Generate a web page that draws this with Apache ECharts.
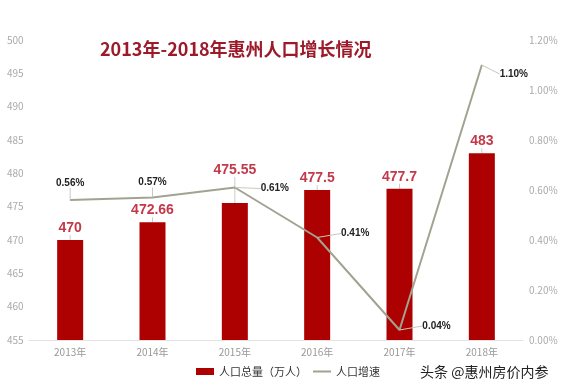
<!DOCTYPE html>
<html><head><meta charset="utf-8">
<script src="https://cdn.jsdelivr.net/npm/echarts@6/dist/echarts.min.js"></script>
<style>html,body{margin:0;padding:0;background:#fff;}#c{width:562px;height:391px;}</style>
</head><body><div id="c"></div>
<script>
const categories = ['2013年','2014年','2015年','2016年','2017年','2018年'];
const population = [470, 472.66, 475.55, 477.5, 477.7, 483];
const growth = [0.56, 0.57, 0.61, 0.41, 0.04, 1.10];
const titleText = '2013年-2018年惠州人口增长情况';
const legendNames = ['人口总量（万人）', '人口增速'];
const watermark = '头条 @惠州房价内参';

// label placement (style only)
const lineLabelOffsets = [[0,-17],[0,-15],[40,1],[38,-4],[37,-4],[32,9]];
const barLabelShift = [0,0,-21,0,0,0];

const chart = echarts.init(document.getElementById('c'));
const font = '"Noto Sans CJK SC", "Liberation Sans", sans-serif';
chart.setOption({
  animation: false,
  textStyle: {fontFamily: font},
  title: {text: titleText, left: 95, top: 35,
    textStyle: {fontSize: 18, fontWeight: 'bold', color: '#9c1a2a', fontFamily: font}},
  grid: {left: 29, right: 39, top: 40, bottom: 51},
  legend: {bottom: 9, left: 191, itemGap: 5, itemWidth: 18, itemHeight: 7,
    textStyle: {fontSize: 11, color: '#333'},
    data: [{name: legendNames[0], icon: 'rect'},
           {name: legendNames[1], itemStyle: {opacity: 0}}]},
  graphic: [{type: 'text', left: 420, top: 365,
    style: {text: watermark, fontSize: 14, fill: '#222', fontFamily: font}}],
  xAxis: {type: 'category', data: categories,
    axisLine: {lineStyle: {color: '#e4e4e4'}}, axisTick: {show: false},
    axisLabel: {color: '#999', fontSize: 10, margin: 7}},
  yAxis: [
    {type: 'value', min: 455, max: 500, interval: 5,
     axisLine: {show: false}, axisTick: {show: false}, splitLine: {show: false},
     axisLabel: {color: '#aaa', fontSize: 10, margin: 22, align: 'left'}},
    {type: 'value', min: 0, max: 1.2, interval: 0.2,
     axisLine: {show: false}, axisTick: {show: false}, splitLine: {show: false},
     axisLabel: {color: '#aaa', fontSize: 10, margin: 6,
       formatter: v => v.toFixed(2) + '%'}}
  ],
  series: [
    {name: legendNames[0], type: 'bar', data: population, barWidth: 26,
     itemStyle: {color: '#ad0000'},
     label: {show: true, position: 'top', distance: 5, color: '#c3394a',
       fontSize: 14, fontWeight: 'bold', fontFamily: '"Liberation Sans", sans-serif'},
     labelLine: {show: true, lineStyle: {color: '#ccc', width: 1}},
     labelLayout: p => ({dy: barLabelShift[p.dataIndex]})},
    {name: legendNames[1], type: 'line', yAxisIndex: 1, data: growth,
     symbol: 'circle', symbolSize: 1, showSymbol: true,
     lineStyle: {color: '#a3a292', width: 2}, itemStyle: {color: '#a3a292'},
     label: {show: true, position: 'inside', color: '#222', fontSize: 10, fontWeight: 'bold',
       fontFamily: '"Liberation Sans", sans-serif', formatter: p => p.value.toFixed(2) + '%'},
     labelLine: {show: true, lineStyle: {color: '#c8c8c0', width: 1}},
     labelLayout: p => {
       const o = lineLabelOffsets[p.dataIndex];
       return {x: p.rect.x + p.rect.width/2 + o[0], y: p.rect.y + p.rect.height/2 + o[1],
               align: 'center', verticalAlign: 'middle'};
     }}
  ]
});
</script></body></html>
